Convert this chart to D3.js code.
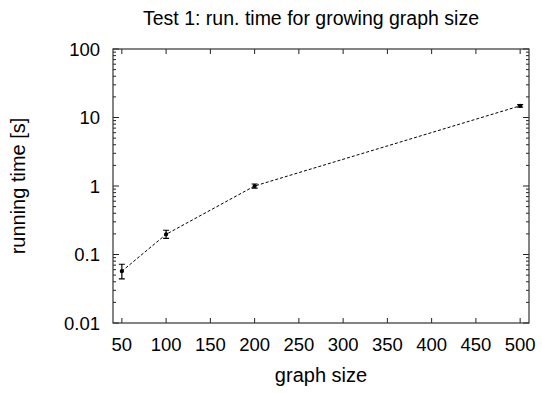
<!DOCTYPE html>
<html>
<head>
<meta charset="utf-8">
<script src="https://cdn.jsdelivr.net/npm/d3@7"></script>
<style>
  body { margin: 0; background: #fff; }
  svg { font-family: "Liberation Sans", Arial, sans-serif; }
</style>
</head>
<body>
<svg width="542" height="393"></svg>
<script>
// graph size vs. running time (seconds), with error bounds
var sizes = [50, 100, 200, 500];
var times = [0.057, 0.197, 1.0, 14.8];
var timesLow = [0.044, 0.172, 0.93, 14.2];
var timesHigh = [0.072, 0.226, 1.07, 15.4];
var xTicks = [50, 100, 150, 200, 250, 300, 350, 400, 450, 500];
var yTicks = [0.01, 0.1, 1, 10, 100];

var svg = d3.select("svg"),
  margin = { top: 49, right: 13, bottom: 70, left: 113 },
  width = +svg.attr("width") - margin.left - margin.right,
  height = +svg.attr("height") - margin.top - margin.bottom;

var x = d3.scaleLinear().domain([40, 510]).range([0, width]),
  y = d3.scaleLog().domain([0.01, 100]).range([height, 0]);

var g = svg.append("g")
  .attr("transform", "translate(" + margin.left + "," + margin.top + ")");

var minor = [];
yTicks.slice(0, -1).forEach(function(t) {
  for (var k = 2; k <= 9; k++) minor.push(t * k);
});

// ticks drawn inward on all four sides
var tickCol = "#222";
g.selectAll(".xt").data(xTicks).enter().append("path")
  .attr("d", function(d) { return "M" + x(d) + "," + height + "v-5M" + x(d) + ",0v5"; })
  .attr("stroke", tickCol);
g.selectAll(".yt").data(yTicks).enter().append("path")
  .attr("d", function(d) { return "M0," + y(d) + "h6M" + width + "," + y(d) + "h-6"; })
  .attr("stroke", tickCol);
g.selectAll(".ym").data(minor).enter().append("path")
  .attr("d", function(d) { return "M0," + y(d) + "h3M" + width + "," + y(d) + "h-3"; })
  .attr("stroke", tickCol);

g.append("rect")
  .attr("width", width).attr("height", height)
  .attr("fill", "none").attr("stroke", "#333").attr("stroke-width", 1.2);

g.selectAll(".xl").data(xTicks).enter().append("text")
  .attr("x", function(d) { return x(d); })
  .attr("y", height + 28)
  .attr("text-anchor", "middle")
  .attr("font-size", 18.5)
  .text(function(d) { return d; });

g.selectAll(".yl").data(yTicks).enter().append("text")
  .attr("x", -13)
  .attr("y", function(d) { return y(d) + 6.5; })
  .attr("text-anchor", "end")
  .attr("font-size", 18.5)
  .text(function(d) { return d; });

var pts = sizes.map(function(s, i) {
  return { x: s, y: times[i], lo: timesLow[i], hi: timesHigh[i] };
});

g.append("path")
  .datum(pts)
  .attr("fill", "none")
  .attr("stroke", "#000")
  .attr("stroke-width", 1)
  .attr("stroke-dasharray", "3,2")
  .attr("d", d3.line().x(function(d) { return x(d.x); }).y(function(d) { return y(d.y); }));

var eb = g.selectAll(".eb").data(pts).enter().append("g")
  .attr("stroke", "#000").attr("stroke-width", 1.2);
eb.append("path")
  .attr("d", function(d) {
    var cx = x(d.x), a = y(d.hi), b = y(d.lo);
    return "M" + cx + "," + a + "V" + b +
      "M" + (cx - 3) + "," + a + "h6M" + (cx - 3) + "," + b + "h6";
  });
eb.append("circle")
  .attr("cx", function(d) { return x(d.x); })
  .attr("cy", function(d) { return y(d.y); })
  .attr("r", 1.5).attr("fill", "#000");

svg.append("text")
  .attr("x", 311).attr("y", 25)
  .attr("text-anchor", "middle")
  .attr("font-size", 19.5)
  .text("Test 1: run. time for growing graph size");

svg.append("text")
  .attr("x", margin.left + width / 2).attr("y", 382)
  .attr("text-anchor", "middle")
  .attr("font-size", 20)
  .text("graph size");

svg.append("text")
  .attr("transform", "translate(25," + (margin.top + height / 2) + ") rotate(-90)")
  .attr("text-anchor", "middle")
  .attr("font-size", 20)
  .text("running time [s]");
</script>
</body>
</html>
